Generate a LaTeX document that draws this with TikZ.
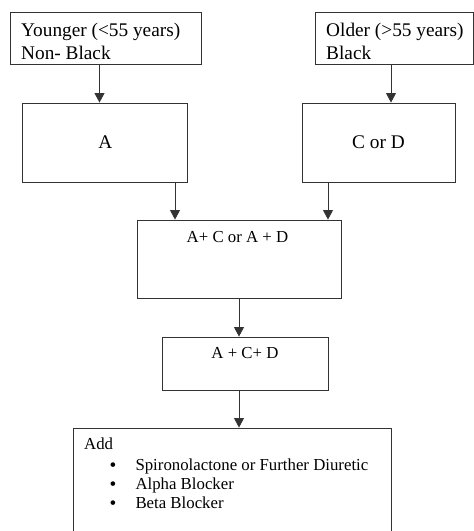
\documentclass[tikz,border=0pt]{standalone}
\usepackage{fontspec}
\setmainfont{Liberation Serif}
\usetikzlibrary{arrows.meta}
\newcommand{\listbul}{\makebox[25.8pt][l]{\raisebox{-1pt}{\scalebox{1.15}{•}}}}
\begin{document}
\begin{tikzpicture}[x=1pt,y=-1pt,
  box/.style={draw=black!80,line width=0.9pt,minimum width=#1,inner sep=0pt,anchor=center},
  txt/.style={inner sep=0pt,font=\fontsize{19.3}{22}\selectfont},
  stxt/.style={inner sep=0pt,font=\fontsize{16.8}{19.5}\selectfont},
  arr/.style={draw=black!80,line width=0.9pt,-{Triangle[length=9.5pt,width=10pt]}}]
\useasboundingbox (0,0) rectangle (474,531);
% boxes
\node[box=191pt,minimum height=52pt] (b1) at (105.5,38) {};
\node[box=158.5pt,minimum height=52pt] (b2) at (394.25,38) {};
\node[box=165pt,minimum height=79pt,txt] (a) at (105.3,142.5) {A};
\node[box=153pt,minimum height=79pt,txt] (cd) at (378.5,142.5) {C or D};
\node[box=204pt,minimum height=78pt] (acad) at (239,259) {};
\node[box=166pt,minimum height=53pt] (acd) at (245,363.5) {};
\node[box=318pt,minimum height=117pt] (add) at (232,486.5) {};
% texts
\node[txt,anchor=base west] (t1a) at (21,36.7) {Younger (<55 years)};
\node[txt,anchor=base west] (t1b) at (21,59.3) {Non- Black};
\node[txt,anchor=base west] (t2a) at (326,36.7) {Older (>55 years)};
\node[txt,anchor=base west] (t2b) at (326,59.3) {Black};
\node[stxt,anchor=base] (t3) at (237.5,242) {A+ C or A + D};
\node[stxt,anchor=base] (t4) at (245,358) {A + C+ D};
\node[stxt,anchor=base west] (t5) at (84,449.5) {Add};
\node[stxt,anchor=base west] (l1) at (109.5,470) {\listbul Spironolactone or Further Diuretic};
\node[stxt,anchor=base west] (l2) at (109.5,489.3) {\listbul Alpha Blocker};
\node[stxt,anchor=base west] (l3) at (109.5,508.5) {\listbul Beta Blocker};
% connectors
\draw[arr] ([xshift=-6pt]b1.south) -- ([xshift=-5.8pt]a.north);
\draw[arr] ([xshift=-3.25pt]b2.south) -- ([xshift=12.5pt]cd.north);
\draw[arr] ([xshift=69.7pt]a.south) -- ([xshift=-64pt]acad.north);
\draw[arr] ([xshift=-50.5pt]cd.south) -- ([xshift=89pt]acad.north);
\draw[arr] (acad.south) -- ([xshift=-6pt]acd.north);
\draw[arr] ([xshift=-6pt]acd.south) -- ([xshift=7pt]add.north);
\end{tikzpicture}
\end{document}
